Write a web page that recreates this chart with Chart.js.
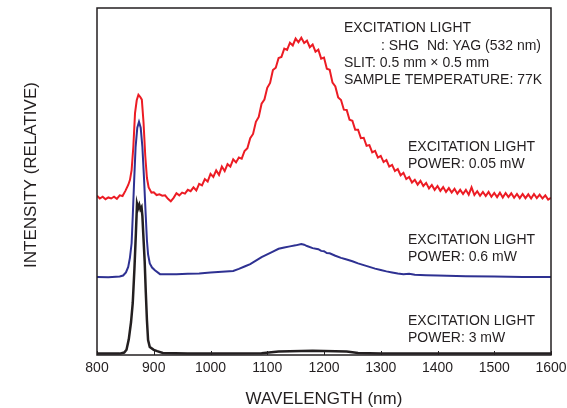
<!DOCTYPE html>
<html><head><meta charset="utf-8">
<script src="https://cdn.jsdelivr.net/npm/chart.js@4"></script>
<style>html,body{margin:0;padding:0;background:#fff}canvas{display:block}</style>
</head><body>
<canvas id="c" width="567" height="408"></canvas>
<script>
// ---- data ----
const xTicks = [800, 900, 1000, 1100, 1200, 1300, 1400, 1500, 1600];
const xTitle = 'WAVELENGTH (nm)';
const yTitle = 'INTENSITY (RELATIVE)';

const redNm = [800,805,810,815,820,825,830,835,840,845,850,855,858,861,864,867,870,873,876,879,882,885,888,891,896,
900,905,910,915,920,925,930,935,940,945,950,955,960,965,970,975,980,985,990,995,
1000,1005,1010,1015,1020,1025,1030,1035,1040,1045,1050,1055,1060,1065,1070,1075,1080,1085,1090,1095,
1100,1105,1110,1115,1120,1125,1130,1135,1140,1145,1150,1155,1160,1165,1170,1175,1180,1185,1190,1195,
1200,1205,1210,1215,1220,1225,1230,1235,1240,1245,1250,1255,1260,1265,1270,1275,1280,1285,1290,1295,
1300,1305,1310,1315,1320,1325,1330,1335,1340,1345,1350,1355,1360,1365,1370,1375,1380,1385,1390,1395,
1400,1405,1410,1415,1420,1425,1430,1435,1440,1445,1450,1455,1460,1465,1470,1475,1480,1485,1490,1495,
1500,1505,1510,1515,1520,1525,1530,1535,1540,1545,1550,1555,1560,1565,1570,1575,1580,1585,1590,1595,1600];
const redVal = [45.9,45.1,45.6,44.9,45.4,45.1,45.6,45.0,46.0,45.8,47.3,49.0,50.4,53.3,59.9,69.7,73.4,75.0,74.4,73.6,67.0,57.5,51.0,48.3,46.8,
46.9,46.1,46.3,45.9,46.0,45.0,44.3,45.3,46.6,46.0,46.8,46.5,47.6,47.2,48.3,47.4,49.3,48.9,50.7,50.0,
52.2,51.3,53.2,51.9,54.3,53.0,55.0,54.3,56.4,55.5,56.9,56.6,58.8,59.6,62.5,63.7,67.2,68.6,72.4,73.6,
77.0,78.4,82.1,82.8,85.6,85.9,88.3,87.9,90.0,89.2,91.2,90.1,91.4,89.9,90.6,88.7,89.5,87.4,88.0,85.4,
85.7,82.5,82.2,78.5,77.4,74.2,73.5,70.7,70.6,67.8,67.5,64.9,64.9,62.5,62.6,60.3,60.5,58.4,58.8,56.9,
57.4,55.6,56.2,54.3,54.8,53.0,53.6,51.8,52.5,50.7,51.3,49.7,50.5,49.1,50.2,48.7,49.6,48.0,49.0,47.6,
48.7,47.3,48.4,47.0,48.1,46.8,47.9,46.5,47.6,46.4,47.6,46.2,48.3,46.1,47.2,45.9,47.0,45.8,47.0,45.6,
46.7,45.5,46.8,45.4,46.7,45.5,46.6,45.3,46.4,45.2,46.4,45.2,46.3,45.1,46.4,45.2,46.2,45.1,46.0,44.8,45.3];

const blueNm = [800,820,840,846,851,855,858,861,863,865.5,868,871,874,877,880,883,885.5,888,890,893,897,902,911,925,
940,960,980,1000,1020,1040,1050,1060,1070,1080,1090,1100,1110,1120,1130,1140,1150,1160,1165,1170,1180,1190,1195,
1200,1205,1210,1220,1230,1240,1250,1260,1270,1280,1290,1300,1310,1320,1330,1340,1350,1360,1380,1400,1450,1500,1550,1600];
const blueVal = [22.5,22.4,22.6,22.9,23.8,25.4,28.0,32.2,40.0,50.4,59.9,65.5,67.2,65.5,59.9,50.4,41.5,33.0,29.0,26.4,25.2,24.4,23.3,23.3,
23.3,23.4,23.5,23.8,24.0,24.2,24.8,25.5,26.2,27.2,28.2,29.0,29.8,30.6,31.0,31.3,31.6,32.0,31.8,31.4,30.8,30.5,30.0,
29.9,29.4,29.3,28.6,28.0,27.5,27.0,26.4,25.9,25.4,24.9,24.5,24.1,23.8,23.5,23.3,23.4,23.1,23.0,22.9,22.7,22.6,22.5,22.5];

const blackNm = [800,840,848,852,856,860,863,866,868.5,870.5,872.5,874.5,876.5,878.5,880,881.5,884,886,888,890,893,900,906,916,960,
1000,1090,1120,1180,1240,1260,1300,1600];
const blackVal = [0.4,0.4,0.7,1.5,4.5,9.5,15,25,35,43.6,42.3,43.3,42.0,42.6,40,35,27,18,10,4.3,2.3,1.5,1.1,0.6,0.4,
0.4,0.5,1.0,1.2,1.0,0.6,0.4,0.4];

const notes = [
  {text: 'EXCITATION LIGHT', x: 344, y: 32},
  {text: ': SHG  Nd: YAG (532 nm)', x: 381, y: 50},
  {text: 'SLIT: 0.5 mm \u00d7 0.5 mm', x: 344, y: 67},
  {text: 'SAMPLE TEMPERATURE: 77K', x: 344, y: 84},
  {text: 'EXCITATION LIGHT', x: 408, y: 151},
  {text: 'POWER: 0.05 mW', x: 408, y: 168},
  {text: 'EXCITATION LIGHT', x: 408, y: 244},
  {text: 'POWER: 0.6 mW', x: 408, y: 261},
  {text: 'EXCITATION LIGHT', x: 408, y: 325},
  {text: 'POWER: 3 mW', x: 408, y: 342}
];

const INK = '#231f20';
const FONT = "'Liberation Sans', Arial, Helvetica, sans-serif";
const zip = (xs, ys) => xs.map((x, i) => ({x, y: ys[i]}));

Chart.defaults.font.family = FONT;
Chart.defaults.color = INK;

const framePlugin = {
  id: 'frame',
  afterDraw(chart) {
    const {ctx, chartArea: a, scales: {x}} = chart;
    ctx.save();
    ctx.strokeStyle = INK;
    ctx.lineWidth = 1.5;
    ctx.strokeRect(a.left, a.top, a.right - a.left, a.bottom - a.top);
    ctx.lineWidth = 1;
    ctx.beginPath();
    xTicks.forEach(v => {
      const px = Math.round(x.getPixelForValue(v)) + 0.5;
      ctx.moveTo(px, a.bottom);
      ctx.lineTo(px, a.bottom - 4);
    });
    ctx.stroke();
    ctx.fillStyle = INK;
    ctx.font = '14px ' + FONT;
    ctx.textBaseline = 'alphabetic';
    ctx.textAlign = 'left';
    notes.forEach(n => ctx.fillText(n.text, n.x, n.y));
    // y-axis title
    ctx.translate(31, 175);
    ctx.rotate(-Math.PI / 2);
    ctx.font = '17px ' + FONT;
    ctx.textAlign = 'center';
    ctx.textBaseline = 'middle';
    ctx.fillText(yTitle, 0, 0);
    ctx.restore();
  }
};

new Chart(document.getElementById('c'), {
  type: 'line',
  data: {
    datasets: [
      {data: zip(blackNm, blackVal), borderColor: '#231f20', borderWidth: 2.5},
      {data: zip(blueNm, blueVal), borderColor: '#2e3192', borderWidth: 2},
      {data: zip(redNm, redVal), borderColor: '#ec1c24', borderWidth: 2}
    ]
  },
  options: {
    responsive: false,
    animation: false,
    devicePixelRatio: 1,
    layout: {padding: {top: 8, right: 16, left: 0, bottom: 0}},
    elements: {point: {radius: 0}, line: {tension: 0}},
    plugins: {legend: {display: false}, tooltip: {enabled: false}},
    scales: {
      x: {
        type: 'linear', min: 800, max: 1600,
        afterBuildTicks: s => { s.ticks = xTicks.map(v => ({value: v})); },
        afterFit: s => { s.height = 53; s.paddingLeft = 0; s.paddingRight = 0; },
        grid: {display: false, drawTicks: false},
        border: {display: false},
        ticks: {padding: 5, font: {size: 14}, color: INK, maxRotation: 0, autoSkip: false,
                callback: v => String(v)},
        title: {display: true, text: xTitle, font: {size: 17}, color: INK, padding: {top: 0, bottom: -2}}
      },
      y: {
        min: 0, max: 100,
        afterFit: s => { s.width = 97; s.paddingTop = 0; s.paddingBottom = 0; },
        grid: {display: false, drawTicks: false},
        border: {display: false},
        ticks: {display: false}
      }
    }
  },
  plugins: [framePlugin]
});
</script>
</body></html>
